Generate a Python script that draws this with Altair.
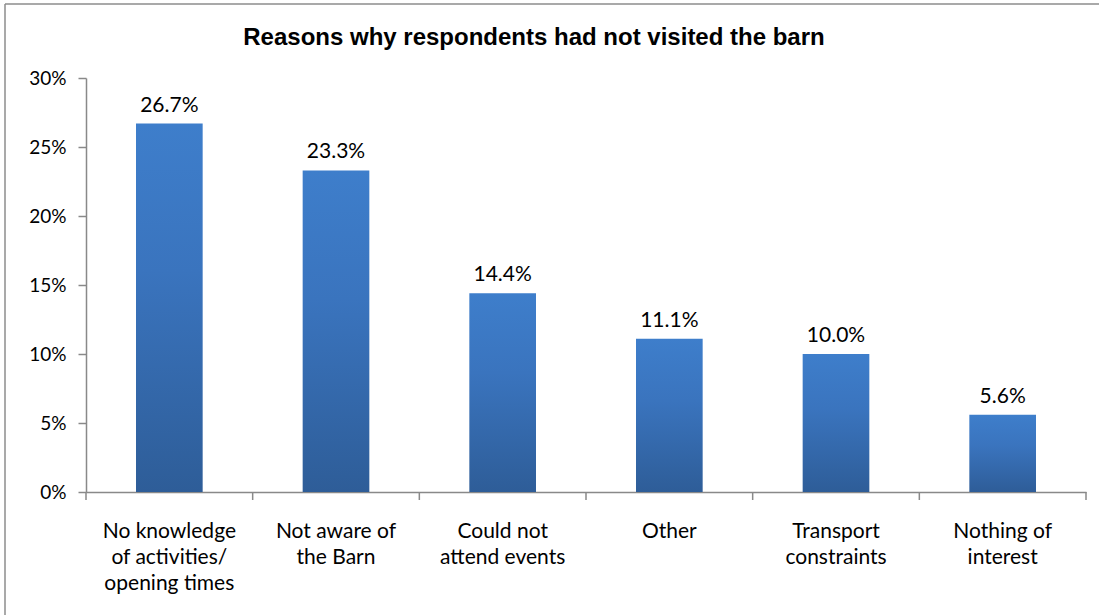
import altair as alt
import pandas as pd

title_text = ["Reasons why respondents had not visited the barn"]
categories = [
    "No knowledge|of activities/|opening times",
    "Not aware of|the Barn",
    "Could not|attend events",
    "Other",
    "Transport|constraints",
    "Nothing of|interest",
]
values = [26.7, 23.3, 14.4, 11.1, 10.0, 5.6]
y_ticks = [0, 5, 10, 15, 20, 25, 30]

df = pd.DataFrame({"reason": categories, "pct": values})
df["label"] = [f"{v:.1f}%" for v in values]

W, H = 1000, 414
GRAY = "#898989"
FONT = "Lato"

x_enc = alt.X(
    "reason:N",
    sort=categories,
    scale=alt.Scale(paddingInner=0, paddingOuter=0),
    axis=alt.Axis(
        title=None,
        labelAngle=0,
        labelExpr="split(datum.label, '|')",
        ticks=False,
        domain=True,
        domainColor=GRAY,
        domainWidth=1.5,
        labelFont=FONT,
        labelFontSize=21,
        labelColor="black",
        labelPadding=28,
        labelLineHeight=26,
        labelBaseline="top",
    ),
)
y_enc = alt.Y(
    "pct:Q",
    scale=alt.Scale(domain=[0, 30], nice=False),
    axis=alt.Axis(
        title=None,
        values=y_ticks,
        labelExpr="datum.value + '%'",
        grid=False,
        tickSize=8,
        tickColor=GRAY,
        tickWidth=1.5,
        domainColor=GRAY,
        domainWidth=1.5,
        labelFont=FONT,
        labelFontSize=19,
        labelColor="black",
        labelPadding=12,
    ),
)

gradient = alt.Gradient(
    gradient="linear",
    x1=0, x2=0, y1=0, y2=1,
    stops=[
        alt.GradientStop(color="#3E7ECB", offset=0),
        alt.GradientStop(color="#3A74BE", offset=0.4),
        alt.GradientStop(color="#2E5D98", offset=1),
    ],
)

base = alt.Chart(df)
bars = base.mark_bar(width={"band": 0.4}, color=gradient).encode(x=x_enc, y=y_enc)
labels = base.mark_text(
    dy=-12, baseline="alphabetic", font=FONT, fontSize=21, color="black"
).encode(x=alt.X("reason:N", sort=categories), y="pct:Q", text="label:N")

xticks = base.mark_rule(color=GRAY, strokeWidth=1.5).encode(
    x=alt.X("reason:N", sort=categories, bandPosition=0),
    y=alt.value(H),
    y2=alt.value(H + 8),
)
one = pd.DataFrame({"a": [0]})
end_tick = alt.Chart(one).mark_rule(color=GRAY, strokeWidth=1.5).encode(
    x=alt.value(W), y=alt.value(H), y2=alt.value(H + 8)
)

title_df = pd.DataFrame({"t": title_text})
title = alt.Chart(title_df).mark_text(
    font="Liberation Sans", fontSize=24, fontWeight="bold", color="black",
    baseline="alphabetic", align="center",
).encode(text="t:N", x=alt.value(448), y=alt.value(-33))

frame_left = alt.Chart(one).mark_rule(color="#8c8c8c", strokeWidth=1.5).encode(
    x=alt.value(-81), y=alt.value(-74), y2=alt.value(H + 140)
)
frame_top = alt.Chart(one).mark_rule(color="#8c8c8c", strokeWidth=1.5).encode(
    x=alt.value(-81), x2=alt.value(W + 13), y=alt.value(-74)
)

chart = alt.layer(frame_left, frame_top, bars, labels, xticks, end_tick, title).properties(
    width=W,
    height=H,
    autosize=alt.AutoSizeParams(type="none"),
    padding={"left": 86, "top": 78, "right": 13, "bottom": 123},
    background="white",
).configure_view(stroke=None)

chart.save("out.html", embed_options={"renderer": "svg", "actions": False})
